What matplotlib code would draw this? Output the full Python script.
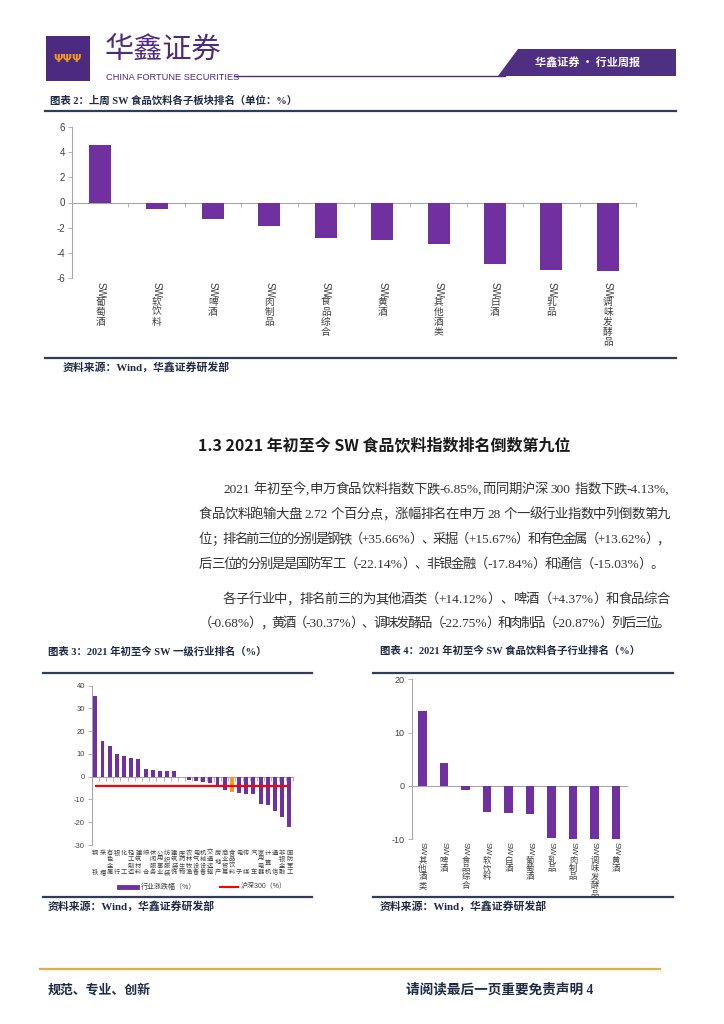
import re
import numpy as np
import matplotlib
matplotlib.use('Agg')
import matplotlib.pyplot as plt
from matplotlib.patches import Rectangle, Polygon
from matplotlib.lines import Line2D
from matplotlib.transforms import blended_transform_factory

W, H = 724, 1024
CJK = 'Noto Sans CJK SC'
SERIF = ['Liberation Serif', CJK]
SANS = ['Liberation Sans', CJK]
plt.rcParams['font.family'] = SANS
plt.rcParams['axes.unicode_minus'] = False

# 图表2：上周各子板块
week_names = ['SW葡萄酒', 'SW软饮料', 'SW啤酒', 'SW肉制品', 'SW食品综合',
              'SW黄酒', 'SW其他酒类', 'SW白酒', 'SW乳品', 'SW调味发酵品']
week_values = [4.6, -0.5, -1.35, -1.85, -2.8, -3.0, -3.35, -4.9, -5.35, -5.45]

# 图表3：年初至今一级行业
ind_names = ['钢铁', '采掘', '有色金属', '银行', '化工', '轻工制造', '建筑材料', '综合',
             '休闲服务', '公用事业', '纺织服装', '建筑装饰', '医药生物', '农林牧渔',
             '电气设备', '机械设备', '交通运输', '房地产', '商业贸易', '食品饮料',
             '电子', '传媒', '汽车', '家用电器', '计算机', '通信', '非银金融', '国防军工']
ind_values = [35.66, 15.67, 13.62, 9.9, 9.2, 8.3, 7.7, 3.3, 2.9, 2.6, 2.5, 2.4, -0.3, -1.5,
              -2.0, -2.4, -2.6, -3.7, -6.0, -6.85, -7.2, -7.7, -7.8, -11.8, -12.4,
              -15.03, -17.84, -22.14]
hs300 = -4.13
highlight = '食品饮料'

# 图表4：年初至今食品饮料子行业
ytd_names = ['SW其他酒类', 'SW啤酒', 'SW食品综合', 'SW软饮料', 'SW白酒',
             'SW葡萄酒', 'SW乳品', 'SW肉制品', 'SW调味发酵品', 'SW黄酒']
ytd_values = [14.12, 4.37, -0.68, -4.9, -5.1, -5.3, -9.7, -20.87, -22.75, -30.37]

PURPLE = '#7030a0'
BRAND = '#4e2a80'
NAVY = '#1f2a44'
LINE = '#2f3d5a'
GREY = '#a6a6a6'
TXT = '#404040'


def fx(x):
    return x / W


def fy(y):
    return 1 - y / H


fig = plt.figure(figsize=(W / 100, H / 100), dpi=100)
renderer = fig.canvas.get_renderer()


def hline(x0, x1, y, color=LINE, lw=1.6):
    fig.add_artist(Line2D([fx(x0), fx(x1)], [fy(y), fy(y)], color=color, lw=lw))


def make_axes(l, t, r, b):
    return fig.add_axes([fx(l), fy(b), (r - l) / W, (b - t) / H])


def style(ax, ylim, yticks, n, fs, xticks=True):
    ax.set_xlim(0.5, n + 0.5)
    ax.set_ylim(*ylim)
    ax.patch.set_alpha(0)
    for s in ['top', 'right']:
        ax.spines[s].set_visible(False)
    ax.spines['bottom'].set_position(('data', 0))
    for s in ['left', 'bottom']:
        ax.spines[s].set_color(GREY)
        ax.spines[s].set_linewidth(0.8)
    ax.set_yticks(yticks)
    ax.tick_params(axis='y', direction='out', length=3, width=0.6, color=GREY,
                   labelsize=fs, labelcolor=TXT, pad=2)
    ax.set_xticks(np.arange(0.5, n + 1, 1))
    ax.tick_params(axis='x', direction='out', length=3 if xticks else 0, width=0.6,
                   color=GREY, labelbottom=False)


def sw_labels(ax, names, sw_c, first_c, pitch, fs):
    tr = blended_transform_factory(ax.transData, fig.transFigure)
    for i, name in enumerate(names):
        ax.text(i + 1, fy(sw_c), 'SW', rotation=-90, ha='center', va='center',
                fontsize=fs, transform=tr, color=TXT, family=SANS)
        for j, ch in enumerate(name[2:]):
            ax.text(i + 1, fy(first_c + j * pitch), ch, ha='center', va='center',
                    fontsize=fs, transform=tr, color=TXT, family=[CJK])


# ---------- header ----------
fig.add_artist(Rectangle((fx(46), fy(81)), 44 / W, 45 / H, transform=fig.transFigure,
                         color='#4b2a7f', lw=0))
fig.text(fx(68), fy(59), '\u03a8\u03a8\u03a8', color='#f39a1e', fontsize=8,
         fontweight='bold', ha='center', va='center', family='DejaVu Sans')
fig.text(fx(105), fy(51), '华鑫证券', color=BRAND, fontsize=21, ha='left', va='center',
         family=[CJK])
fig.text(fx(106), fy(77), 'CHINA FORTUNE SECURITIES', color=BRAND, fontsize=6.7,
         ha='left', va='center', family='Liberation Sans')
hline(234, 505, 75.5, color=BRAND, lw=1.0)
tab = Polygon([(fx(518), fy(49)), (fx(676), fy(49)), (fx(676), fy(75.5)), (fx(498), fy(75.5))],
              closed=True, transform=fig.transFigure, color='#4f2f82', lw=0)
fig.add_artist(tab)
fig.text(fx(588), fy(62), '华鑫证券 • 行业周报', color='white', fontsize=8, fontweight='bold',
         ha='center', va='center', family=[CJK, 'DejaVu Sans'])

# ---------- chart 2 ----------
fig.text(fx(50), fy(101), '图表 2：上周 SW 食品饮料各子板块排名（单位：%）', color=NAVY,
         fontsize=7.5, fontweight='bold', ha='left', va='center', family=SERIF)
hline(45, 676, 111)
ax2 = make_axes(72, 127.3, 636, 277.7)
x2 = np.arange(1, len(week_values) + 1)
ax2.bar(x2, week_values, width=0.39, color=PURPLE, zorder=3)
style(ax2, (-6, 6), [-6, -4, -2, 0, 2, 4, 6], len(week_values), 7)
sw_labels(ax2, week_names, 289.5, 301.5, 10, 7)
hline(45, 676, 358)
fig.text(fx(63), fy(367), '资料来源：Wind，华鑫证券研发部', color=NAVY, fontsize=7.8,
         fontweight='bold', ha='left', va='center', family=SERIF)

# ---------- heading + body ----------
fig.text(fx(198), fy(446), '1.3 2021 年初至今 SW 食品饮料指数排名倒数第九位', color='#1a1a1a',
         fontsize=11.5, fontweight='bold', ha='left', va='center', family=[CJK])

body = [
    ('2021 年初至今,申万食品饮料指数下跌-6.85%,而同期沪深 300 指数下跌-4.13%,', 223, 670, 488),
    ('食品饮料跑输大盘 2.72 个百分点，涨幅排名在申万 28 个一级行业指数中列倒数第九', 199, 670, 513),
    ('位；排名前三位的分别是钢铁（+35.66%）、采掘（+15.67%）和有色金属（+13.62%），', 199, 670, 538),
    ('后三位的分别是是国防军工（-22.14%）、非银金融（-17.84%）和通信（-15.03%）。', 199, 664, 563),
    ('各子行业中，排名前三的为其他酒类（+14.12%）、啤酒（+4.37%）和食品综合', 223, 670, 598),
    ('（-0.68%），黄酒（-30.37%）、调味发酵品（-22.75%）和肉制品（-20.87%）列后三位。', 199, 670, 622),
]
BFS = 9.6
em = BFS * 100 / 72


def latin_width(tok):
    t = fig.text(0, 0, tok, fontsize=BFS, family=SERIF)
    w = t.get_window_extent(renderer).width
    t.remove()
    return w + 0.06 * em


for line, x0, x1, yc in body:
    toks = re.findall(r'[A-Za-z0-9.%+\-,]+| |.', line)
    widths = []
    for tok in toks:
        if tok == ' ':
            widths.append(0.28 * em)
        elif re.match(r'[A-Za-z0-9.%+\-,]', tok):
            widths.append(latin_width(tok))
        else:
            widths.append(em)
    gap = (x1 - x0 - sum(widths)) / max(len(toks) - 1, 1)
    x = x0
    for tok, w in zip(toks, widths):
        if tok != ' ':
            if len(tok) == 1 and not re.match(r'[A-Za-z0-9.%+\-,]', tok):
                fig.text(fx(x + w / 2), fy(yc + 5), tok, fontsize=BFS, color='#333333',
                         ha='center', va='baseline', family=SERIF)
            else:
                fig.text(fx(x), fy(yc + 5), tok, fontsize=BFS, color='#333333',
                         ha='left', va='baseline', family=SERIF)
        x += w + gap

# ---------- chart 3 ----------
fig.text(fx(48), fy(651), '图表 3：2021 年初至今 SW 一级行业排名（%）', color=NAVY,
         fontsize=7.5, fontweight='bold', ha='left', va='center', family=SERIF)
hline(43, 312, 673)
ax3 = make_axes(91.7, 685.7, 293, 845)
x3 = np.arange(1, len(ind_values) + 1)
colors3 = ['#f59a23' if n == highlight else PURPLE for n in ind_names]
ax3.bar(x3, ind_values, width=0.55, color=colors3, zorder=3)
ax3.hlines(hs300, x3[0], x3[-1], color='#ff0000', lw=1.6, zorder=4)
style(ax3, (-30, 40), [-30, -20, -10, 0, 10, 20, 30, 40], len(ind_values), 5.5)
tr3 = blended_transform_factory(ax3.transData, fig.transFigure)
top3, bot3 = 853, 872
for i, name in enumerate(ind_names):
    n = len(name)
    for j, ch in enumerate(name):
        yy = top3 + (bot3 - top3) * j / (n - 1)
        ax3.text(i + 1, fy(yy), ch, ha='center', va='center', fontsize=4.5, color=TXT,
                 transform=tr3, family=[CJK])
fig.add_artist(Line2D([fx(119), fx(137)], [fy(887), fy(887)], color=PURPLE, lw=3.5))
fig.text(fx(141), fy(887), '行业涨跌幅（%）', fontsize=5, color=TXT, ha='left', va='center',
         family=[CJK])
fig.add_artist(Line2D([fx(220), fx(238)], [fy(887), fy(887)], color='#ff0000', lw=1.5))
fig.text(fx(241), fy(887), '沪深300（%）', fontsize=5, color=TXT, ha='left', va='center',
         family=SANS)
hline(43, 312, 897)
fig.text(fx(48), fy(906), '资料来源：Wind，华鑫证券研发部', color=NAVY, fontsize=7.8,
         fontweight='bold', ha='left', va='center', family=SERIF)

# ---------- chart 4 ----------
fig.text(fx(380), fy(651), '图表 4：2021 年初至今 SW 食品饮料各子行业排名（%）', color=NAVY,
         fontsize=7.5, fontweight='bold', ha='left', va='center', family=SERIF)
hline(373, 673, 673)
ax4 = make_axes(411.7, 679.3, 626.7, 839.3)
x4 = np.arange(1, len(ytd_values) + 1)
ax4.bar(x4, ytd_values, width=0.39, color=PURPLE, zorder=3)
style(ax4, (-10, 20), [-10, 0, 10, 20], len(ytd_values), 6.5, xticks=False)
sw_labels(ax4, ytd_names, 849, 860, 8.5, 6)
hline(373, 673, 897)
fig.text(fx(380), fy(906), '资料来源：Wind，华鑫证券研发部', color=NAVY, fontsize=7.8,
         fontweight='bold', ha='left', va='center', family=SERIF)

# ---------- footer ----------
hline(40, 660, 969, color='#e3ac45', lw=1.6)
fig.text(fx(48), fy(990), '规范、专业、创新', color=NAVY, fontsize=9.3, fontweight='bold',
         ha='left', va='center', family=SERIF)
fig.text(fx(406), fy(990), '请阅读最后一页重要免责声明 4', color=NAVY, fontsize=9.8,
         fontweight='bold', ha='left', va='center', family=SERIF)

fig.savefig('out.png', dpi=100)
